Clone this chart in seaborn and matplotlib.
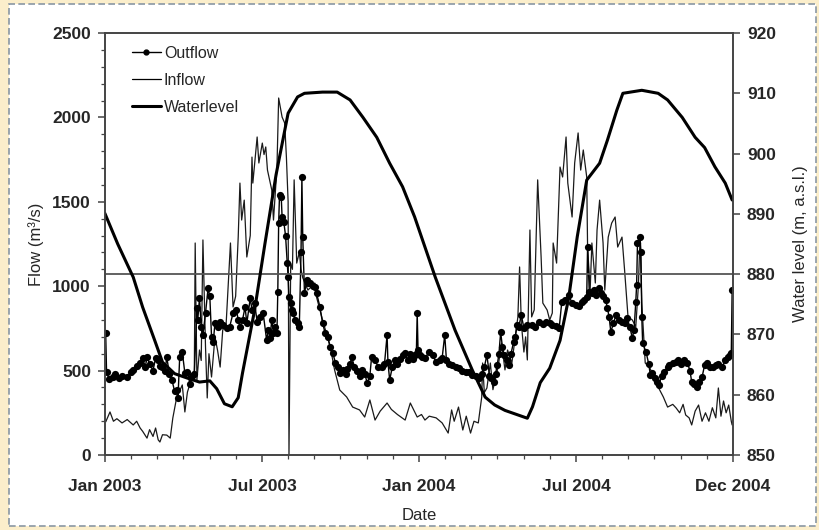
import matplotlib
matplotlib.use("Agg")
import matplotlib.pyplot as plt
from matplotlib.patches import Rectangle
from matplotlib.lines import Line2D
import numpy as np
import pandas as pd
import seaborn as sns

START = pd.Timestamp("2003-01-01")

# days since 1 Jan 2003 -> water level (m a.s.l.)
level_day = [0, 15, 33, 44, 58, 67, 81, 95, 110, 122, 130, 139, 148, 155, 160, 174, 186, 199,
             213, 224, 232, 253, 270, 285, 300, 316, 331, 346, 360, 384, 407, 427, 442, 453,
             465, 477, 491, 497, 506, 517, 529, 539, 549, 560, 575, 584, 595, 602, 624, 643,
             654, 671, 686, 697, 709, 721, 729]
level_value = [890.1, 885.0, 879.5, 874.5, 869.0, 865.4, 863.5, 862.8, 862.1, 862.3, 861.0,
               858.5, 858.0, 859.5, 863.6, 874.0, 885.0, 896.5, 906.7, 909.4, 910.0, 910.2,
               910.2, 908.9, 906.0, 902.7, 898.4, 894.5, 889.5, 879.5, 870.7, 864.1, 859.6,
               858.3, 857.4, 856.8, 856.1, 858.0, 862.0, 864.4, 869.0, 876.0, 886.2, 895.6,
               898.4, 902.2, 907.2, 910.0, 910.5, 910.0, 908.9, 906.0, 902.7, 901.0, 897.8,
               895.1, 892.3]

# days since 1 Jan 2003 -> inflow (m3/s)
inflow_day = [1, 6, 10, 14, 20, 26, 33, 37, 41, 44, 49, 52, 56, 59, 62, 64, 67, 72, 76, 79,
              84, 87, 90, 93, 96, 101, 104, 105, 107, 110, 112, 114, 117, 119, 121, 124, 128,
              131, 134, 137, 141, 146, 149, 152, 155, 157, 159, 162, 165, 169, 171, 172, 177,
              179, 183, 185, 187, 189, 194, 196, 200, 202, 206, 209, 211, 213, 214, 216, 218,
              220, 223, 226, 228, 230, 236, 244, 246, 253, 262, 267, 273, 281, 288, 296, 302,
              308, 314, 320, 328, 333, 340, 349, 355, 363, 368, 372, 377, 385, 392, 399, 403,
              406, 411, 416, 420, 425, 429, 434, 438, 439, 441, 444, 448, 451, 457, 461, 465,
              468, 473, 477, 480, 482, 484, 487, 489, 491, 494, 496, 499, 503, 507, 509, 514,
              517, 520, 521, 525, 529, 532, 536, 538, 543, 546, 550, 553, 556, 560, 561, 564,
              566, 570, 572, 575, 579, 581, 585, 589, 593, 596, 601, 604, 608, 613, 617, 620,
              622, 624, 628, 633, 636, 643, 649, 654, 660, 664, 668, 672, 675, 679, 682, 686,
              690, 694, 698, 702, 706, 710, 713, 716, 719, 722, 725, 728, 729]
inflow_value = [196, 255, 200, 215, 190, 210, 178, 200, 160, 140, 100, 150, 110, 160, 90, 77,
                120, 118, 100, 219, 355, 380, 415, 255, 373, 456, 500, 1256, 444, 622, 560,
                1274, 640, 338, 600, 462, 700, 620, 521, 740, 780, 1256, 877, 940, 1291, 1611,
                1392, 1510, 1173, 1300, 1765, 1611, 1884, 1730, 1848, 1780, 1825, 1688, 1570,
                1392, 1700, 2115, 2002, 1967, 1765, 1500, 0, 1137, 1100, 1630, 1137, 1200, 1100,
                1050, 977, 1019, 936, 800, 640, 504, 385, 344, 284, 267, 225, 326, 207, 260,
                308, 270, 240, 207, 308, 225, 240, 207, 230, 220, 190, 130, 267, 200, 284, 148,
                230, 130, 200, 190, 344, 545, 370, 397, 545, 387, 521, 663, 504, 622, 545, 700,
                818, 1114, 782, 610, 700, 563, 1333, 818, 860, 1630, 1173, 900, 859, 800, 841,
                1256, 1137, 1706, 1647, 1884, 1611, 1410, 1730, 1908, 1688, 1807, 1647, 1232,
                977, 1256, 1019, 1333, 1510, 1256, 977, 1291, 1374, 1410, 1232, 1291, 1096,
                818, 800, 760, 1000, 1291, 900, 545, 520, 486, 403, 344, 284, 300, 278, 250,
                300, 237, 220, 178, 260, 296, 200, 250, 200, 280, 220, 397, 230, 320, 250, 296,
                200, 178]

# days since 1 Jan 2003 -> outflow (m3/s)
outflow_day = [1, 2, 5, 9, 12, 16, 20, 26, 30, 33, 37, 41, 44, 47, 49, 52, 56, 59, 62, 64, 67,
               70, 72, 75, 78, 81, 84, 85, 87, 90, 93, 96, 99, 101, 104, 107, 108, 110, 112,
               114, 117, 120, 122, 124, 126, 128, 131, 134, 137, 142, 145, 149, 153, 155, 157,
               160, 163, 165, 169, 171, 174, 177, 180, 184, 188, 190, 192, 194, 196, 198, 200,
               201, 202, 203, 205, 206, 208, 210, 212, 213, 214, 216, 217, 219, 221, 224, 226,
               228, 229, 230, 232, 235, 236, 238, 242, 244, 246, 250, 253, 256, 259, 262, 265,
               268, 271, 273, 277, 280, 282, 285, 287, 290, 293, 296, 299, 302, 305, 308, 310,
               314, 318, 322, 325, 328, 329, 331, 334, 337, 340, 343, 346, 349, 352, 355, 358,
               360, 362, 363, 364, 366, 368, 372, 377, 381, 385, 389, 392, 395, 397, 400, 403,
               408, 411, 415, 420, 423, 427, 431, 435, 438, 441, 444, 447, 449, 452, 454, 456,
               458, 460, 462, 464, 467, 470, 472, 475, 477, 479, 481, 484, 487, 491, 496, 500,
               504, 509, 513, 517, 520, 524, 528, 531, 535, 539, 543, 547, 551, 554, 557, 560,
               561, 563, 566, 568, 571, 574, 577, 579, 582, 584, 586, 588, 591, 594, 598, 601,
               604, 607, 610, 613, 615, 617, 618, 619, 622, 623, 624, 625, 629, 632, 634, 636,
               639, 642, 644, 647, 650, 654, 656, 660, 664, 666, 670, 673, 677, 680, 682, 685,
               688, 691, 694, 697, 700, 703, 707, 710, 713, 717, 721, 724, 726, 728, 729]
outflow_value = [720, 490, 450, 462, 480, 455, 470, 462, 490, 504, 530, 545, 575, 520, 580,
                 540, 500, 575, 563, 530, 521, 500, 580, 480, 444, 380, 385, 338, 580, 610, 486,
                 492, 420, 470, 480, 871, 800, 930, 760, 711, 841, 989, 940, 700, 669, 782, 760,
                 788, 770, 752, 758, 841, 859, 800, 760, 800, 877, 780, 930, 859, 900, 790, 818,
                 841, 681, 740, 693, 800, 723, 758, 723, 966, 1374, 1540, 1528, 1410, 1380, 1300,
                 1137, 1054, 936, 900, 859, 841, 800, 782, 760, 1200, 1647, 1291, 960, 1037,
                 1019, 1019, 1000, 995, 960, 877, 782, 723, 699, 640, 604, 545, 521, 486, 504,
                 480, 510, 540, 580, 520, 500, 470, 504, 480, 427, 470, 580, 560, 520, 521, 540,
                 711, 550, 444, 520, 563, 540, 570, 590, 604, 560, 600, 570, 590, 600, 841, 620,
                 592, 580, 575, 610, 590, 551, 560, 575, 711, 560, 540, 533, 520, 515, 500, 492,
                 490, 474, 470, 456, 480, 520, 592, 470, 456, 432, 480, 533, 600, 729, 640, 592,
                 560, 533, 600, 669, 700, 770, 760, 829, 752, 770, 770, 760, 788, 775, 788, 780,
                 770, 765, 752, 906, 920, 948, 900, 889, 880, 906, 920, 936, 1232, 966, 960, 980,
                 948, 989, 960, 940, 920, 871, 820, 729, 780, 829, 800, 788, 782, 811, 760, 693,
                 740, 906, 1007, 1256, 1291, 1200, 820, 663, 610, 540, 474, 486, 456, 430, 415,
                 470, 492, 521, 533, 545, 551, 563, 540, 560, 545, 500, 432, 420, 403, 432, 460,
                 533, 545, 520, 521, 533, 540, 520, 560, 580, 592, 604, 977]

reference_level = 880
flow_ticks = [0, 500, 1000, 1500, 2000, 2500]
level_ticks = [850, 860, 870, 880, 890, 900, 910, 920]
date_labels = ["Jan 2003", "Jul 2003", "Jan 2004", "Jul 2004", "Dec 2004"]


def to_dates(days):
    return START + pd.to_timedelta(days, unit="D")


sns.set_style("ticks")
plt.rcParams["font.family"] = ["Liberation Sans", "DejaVu Sans"]

fig = plt.figure(figsize=(8.19, 5.30), dpi=100)
fig.patch.set_facecolor("#fbeecb")
fig.patches.append(Rectangle((0.011, 0.008), 0.985, 0.985, transform=fig.transFigure,
                             facecolor="white", edgecolor="#8a97a3", linestyle=(0, (4, 2)),
                             linewidth=1.2, zorder=-1))
ax = fig.add_axes([0.128, 0.1415, 0.767, 0.7962])
ax.set_facecolor("white")
ax2 = ax.twinx()

outflow = pd.DataFrame({"date": to_dates(outflow_day), "flow": outflow_value})
inflow = pd.DataFrame({"date": to_dates(inflow_day), "flow": inflow_value})
level = pd.DataFrame({"date": to_dates(level_day), "level": level_value})

sns.lineplot(data=inflow, x="date", y="flow", ax=ax, color="#1a1a1a", linewidth=0.9,
             estimator=None, sort=False)
sns.lineplot(data=outflow, x="date", y="flow", ax=ax, color="black", linewidth=1.0,
             marker="o", markersize=5.2, markeredgewidth=0, estimator=None, sort=False)
sns.lineplot(data=level, x="date", y="level", ax=ax2, color="black", linewidth=2.2,
             estimator=None, sort=False)
ax2.axhline(reference_level, color="#555555", linewidth=1.3, zorder=1)

x0, x1 = START, START + pd.Timedelta(days=730)
ax.set_xlim(x0, x1)
ax.set_ylim(0, 2500)
ax2.set_ylim(850, 920)

month_ticks = [START + pd.Timedelta(days=d) for d in np.linspace(0, 730, 25)]
ax.set_xticks(month_ticks[::6])
ax.set_xticklabels(date_labels)
ax.set_xticks(month_ticks, minor=True)
ax.set_yticks(flow_ticks)
ax.set_yticks(np.arange(0, 2501, 100), minor=True)
ax2.set_yticks(level_ticks)

for a in (ax, ax2):
    for side in a.spines.values():
        side.set_color("#444444")
        side.set_linewidth(1.2)
    a.tick_params(which="major", length=5, width=1.1, color="#444444", labelsize=12.5, pad=5)
    a.tick_params(which="minor", length=3, width=0.9, color="#444444")
    for lbl in a.get_yticklabels() + a.get_xticklabels():
        lbl.set_fontweight("bold")
ax.tick_params(axis="x", pad=12)

ax.set_xlabel("Date", fontsize=12, labelpad=10)
ax.set_ylabel("Flow (m³/s)", fontsize=12, labelpad=6)
ax2.set_ylabel("Water level (m, a.s.l.)", fontsize=12, labelpad=12)

handles = [
    Line2D([], [], color="black", linewidth=1.0, marker="o", markersize=3.5),
    Line2D([], [], color="black", linewidth=0.9),
    Line2D([], [], color="black", linewidth=2.2),
]
ax2.legend(handles, ["Outflow", "Inflow", "Waterlevel"], loc="upper left",
           bbox_to_anchor=(0.043, 0.97), frameon=False, fontsize=11.5, borderpad=0,
           borderaxespad=0, handlelength=1.8, handletextpad=0.2, labelspacing=0.75)

fig.savefig("out.png", dpi=100, facecolor=fig.get_facecolor())
